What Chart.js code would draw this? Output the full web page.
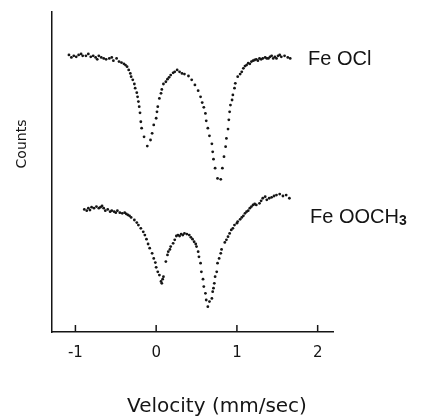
<!DOCTYPE html>
<html>
<head>
<meta charset="utf-8">
<script src="https://cdn.jsdelivr.net/npm/chart.js@4.4.1/dist/chart.umd.min.js"></script>
<style>
  html, body { margin: 0; padding: 0; background: #fff; }
  #wrap { width: 422px; height: 420px; position: relative; }
</style>
</head>
<body>
<div id="wrap"><canvas id="mossbauer"></canvas></div>
<script>
// Mossbauer spectra (counts in arbitrary units)
const seriesNames = ["Fe OCl", "Fe OOCH3"];
const velocityTicks = [-1, 0, 1, 2];

const velocityFeOCl = [
  -1.08,-1.05,-1.02,-0.99,-0.96,-0.93,-0.91,-0.87,-0.84,-0.81,
  -0.78,-0.75,-0.73,-0.71,-0.68,-0.65,-0.62,-0.58,-0.55,-0.53,
  -0.49,-0.46,-0.43,-0.40,-0.38,-0.36,-0.34,-0.32,-0.31,-0.29,
  -0.27,-0.26,-0.24,-0.23,-0.22,-0.21,-0.20,-0.19,-0.18,-0.15,
  -0.11,-0.07,-0.05,-0.03,0.00,0.01,0.02,0.04,0.06,0.07,
  0.09,0.12,0.14,0.16,0.18,0.21,0.23,0.26,0.29,0.32,
  0.35,0.40,0.44,0.48,0.52,0.55,0.57,0.59,0.61,0.62,
  0.64,0.66,0.69,0.70,0.71,0.73,0.76,0.80,0.82,0.84,
  0.86,0.87,0.89,0.90,0.91,0.92,0.94,0.95,0.97,0.98,
  1.01,1.04,1.06,1.08,1.10,1.12,1.14,1.16,1.18,1.20,
  1.22,1.24,1.26,1.28,1.30,1.32,1.35,1.37,1.39,1.41,
  1.43,1.45,1.47,1.49,1.51,1.53,1.55,1.59,1.63,1.66
];
const countsFeOCl = [
  86.6,85.8,86.3,86.0,86.6,86.9,86.3,86.3,86.9,86.0,
  86.3,85.8,85.2,86.3,85.8,85.5,85.2,85.5,85.8,84.8,
  85.5,84.5,84.2,83.8,83.4,82.9,81.9,80.8,79.8,78.8,
  77.5,76.2,74.8,73.5,72.0,70.4,68.5,65.7,63.7,61.0,
  58.1,60.0,62.1,64.7,66.8,68.8,70.4,73.0,74.6,75.8,
  77.5,78.2,79.0,79.6,80.3,81.0,81.3,81.9,81.3,80.8,
  80.6,80.0,78.8,77.2,75.4,73.5,71.7,70.2,68.3,66.0,
  63.7,61.3,58.8,56.3,54.0,51.2,48.0,47.7,51.2,54.8,
  57.9,60.5,63.4,66.3,68.8,70.9,72.5,74.1,76.2,77.7,
  79.8,80.6,81.3,82.4,83.1,83.4,84.0,83.8,84.5,84.8,
  85.0,85.2,84.8,85.5,85.2,85.5,85.8,85.5,85.5,86.0,
  86.3,85.5,86.0,85.5,86.3,86.6,86.0,86.3,85.8,85.5
];

const velocityFeOOCH3 = [
  -0.89,-0.86,-0.84,-0.82,-0.80,-0.77,-0.74,-0.71,-0.69,-0.67,
  -0.65,-0.63,-0.60,-0.57,-0.55,-0.52,-0.50,-0.48,-0.45,-0.42,
  -0.39,-0.37,-0.35,-0.33,-0.31,-0.27,-0.24,-0.22,-0.19,-0.16,
  -0.14,-0.12,-0.10,-0.08,-0.05,-0.03,-0.01,0.00,0.02,0.04,
  0.06,0.07,0.08,0.09,0.12,0.14,0.15,0.17,0.18,0.21,
  0.23,0.25,0.27,0.29,0.31,0.33,0.35,0.38,0.41,0.43,
  0.45,0.47,0.49,0.50,0.52,0.53,0.55,0.56,0.58,0.59,
  0.61,0.62,0.64,0.66,0.69,0.70,0.71,0.72,0.73,0.75,
  0.76,0.78,0.80,0.81,0.85,0.87,0.89,0.91,0.93,0.95,
  0.97,1.00,1.01,1.04,1.06,1.08,1.10,1.12,1.14,1.16,
  1.18,1.20,1.22,1.24,1.28,1.30,1.32,1.35,1.37,1.40,
  1.43,1.46,1.49,1.53,1.57,1.61,1.65
];
const countsFeOOCH3 = [
  38.3,37.9,38.7,38.1,39.0,38.7,39.2,38.7,39.0,39.4,
  38.7,37.9,38.3,37.6,37.9,37.6,37.3,37.9,37.3,37.1,
  37.3,36.9,36.6,36.3,35.8,35.0,34.2,33.4,32.4,31.3,
  30.3,29.0,27.5,26.2,24.6,23.0,21.7,20.2,18.8,17.8,
  15.8,15.2,16.5,17.3,22.0,24.1,25.1,25.8,26.7,27.7,
  28.8,30.0,30.3,30.0,30.6,30.3,30.8,30.6,30.3,29.6,
  29.0,28.2,27.5,26.7,25.1,23.5,21.5,18.8,16.5,14.2,
  12.1,10.0,7.9,9.5,10.5,12.6,13.7,15.2,17.3,18.8,
  21.5,23.0,24.6,25.8,28.0,28.8,29.8,30.8,31.9,32.4,
  33.4,34.0,34.5,35.2,35.8,36.3,37.1,37.6,37.9,38.7,
  39.2,39.7,40.0,39.7,40.2,41.0,41.8,42.3,41.3,41.8,
  42.1,42.5,42.8,43.1,42.5,42.8,41.8
];

const toPoints = (xs, ys) => xs.map((v, i) => ({ x: v, y: ys[i] }));
const ink = "#151515";

// inward ticks, compound labels and axis titles
const decor = {
  id: "decor",
  afterDraw(chart) {
    const { ctx, chartArea, scales } = chart;
    ctx.save();
    ctx.strokeStyle = ink;
    ctx.lineWidth = 1.5;
    velocityTicks.forEach(v => {
      const px = scales.x.getPixelForValue(v);
      ctx.beginPath();
      ctx.moveTo(px, chartArea.bottom);
      ctx.lineTo(px, chartArea.bottom - 7);
      ctx.stroke();
    });

    ctx.fillStyle = ink;
    ctx.textBaseline = "alphabetic";
    ctx.font = '20px "Liberation Sans"';
    ctx.fillText(seriesNames[0], 308, 65);
    const main = seriesNames[1].slice(0, -1);
    ctx.fillText(main, 310, 223);
    const w = ctx.measureText(main).width;
    ctx.font = 'bold 14px "Liberation Sans"';
    ctx.fillText(seriesNames[1].slice(-1), 310 + w, 225);

    ctx.font = '20px "DejaVu Sans"';
    ctx.textAlign = "center";
    ctx.fillText("Velocity (mm/sec)", 217, 412);

    ctx.translate(22, 144);
    ctx.rotate(-Math.PI / 2);
    ctx.font = '14px "DejaVu Sans"';
    ctx.textBaseline = "middle";
    ctx.fillText("Counts", 0, 0);
    ctx.restore();
  }
};

new Chart("mossbauer", {
  type: "scatter",
  data: {
    datasets: [
      { label: seriesNames[0], data: toPoints(velocityFeOCl, countsFeOCl) },
      { label: seriesNames[1], data: toPoints(velocityFeOOCH3, countsFeOOCH3) }
    ]
  },
  options: {
    responsive: true,
    maintainAspectRatio: false,
    animation: false,
    layout: { padding: { left: 52, right: 89, top: 12, bottom: 0 } },
    elements: {
      point: { radius: 1.4, backgroundColor: ink, borderWidth: 0 }
    },
    plugins: {
      legend: { display: false },
      tooltip: { enabled: false }
    },
    scales: {
      x: {
        type: "linear",
        min: -1.29,
        max: 2.19,
        afterBuildTicks: scale => { scale.ticks = velocityTicks.map(v => ({ value: v })); },
        afterFit: scale => { scale.height = 88; },
        grid: { display: false, drawTicks: false },
        border: { display: true, color: ink, width: 1.5 },
        ticks: {
          padding: 12,
          color: ink,
          font: { family: "DejaVu Sans", size: 15 }
        }
      },
      y: {
        min: 0,
        max: 100,
        afterFit: scale => { scale.width = 0; },
        grid: { display: false, drawTicks: false },
        border: { display: true, color: ink, width: 1.5 },
        ticks: { display: false }
      }
    }
  },
  plugins: [decor]
});
</script>
</body>
</html>
